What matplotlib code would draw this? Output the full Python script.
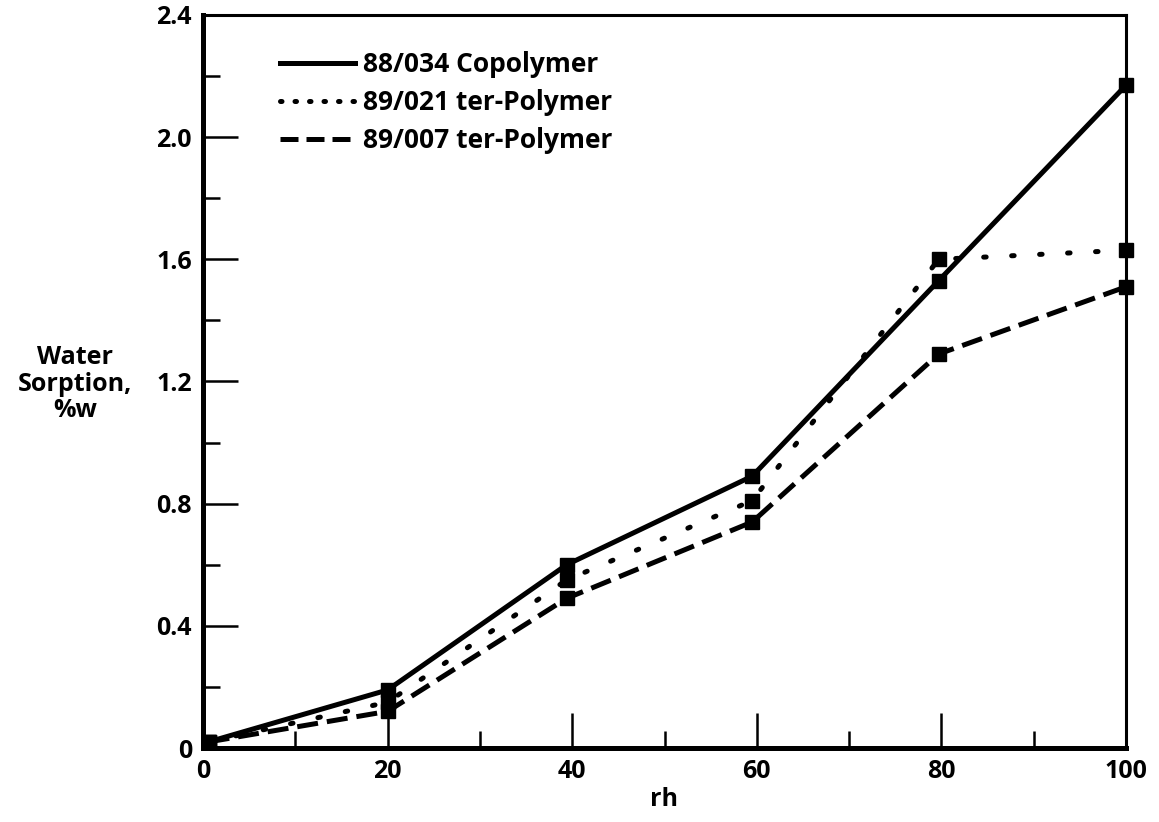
import matplotlib
matplotlib.use("Agg")
import matplotlib.pyplot as plt
from matplotlib.lines import Line2D
from matplotlib.ticker import MultipleLocator

plt.rcParams['font.family'] = ['Open Sans', 'DejaVu Sans']

# relative humidity (%) and water sorption (%w) for each polymer
rh = [0.6, 20, 39.4, 59.5, 79.7, 100]
copolymer_88_034 = [0.02, 0.19, 0.60, 0.89, 1.53, 2.17]
terpolymer_89_021 = [0.02, 0.15, 0.55, 0.81, 1.60, 1.63]
terpolymer_89_007 = [0.02, 0.12, 0.49, 0.74, 1.29, 1.51]

series_labels = ["88/034 Copolymer", "89/021 ter-Polymer", "89/007 ter-Polymer"]
x_ticks = [0, 20, 40, 60, 80, 100]
y_ticks = [0, 0.4, 0.8, 1.2, 1.6, 2.0, 2.4]
y_tick_labels = ["0", "0.4", "0.8", "1.2", "1.6", "2.0", "2.4"]

W, H, DPI = 1159, 822, 100
fig = plt.figure(figsize=(W / DPI, H / DPI), dpi=DPI)
ax = fig.add_axes([203 / W, 1 - 748 / H, (1126 - 203) / W, (748 - 15) / H])

lw = 3.6
dotted = (0, (0.5, 5.1))
dashed = (0, (4.2, 1.8))
styles = [
    dict(linestyle='-'),
    dict(linestyle=dotted, dash_capstyle='round'),
    dict(linestyle=dashed, dash_capstyle='butt'),
]
for vals, st in zip([copolymer_88_034, terpolymer_89_021, terpolymer_89_007], styles):
    ax.plot(rh, vals, color='black', lw=lw, marker='s', markersize=9.5,
            markerfacecolor='black', markeredgecolor='black', clip_on=False,
            zorder=3, **st)

ax.set_xlim(0, 100)
ax.set_ylim(0, 2.4)
ax.set_xticks(x_ticks)
ax.xaxis.set_minor_locator(MultipleLocator(10))
ax.set_yticks(y_ticks)
ax.set_yticklabels(y_tick_labels)
ax.yaxis.set_minor_locator(MultipleLocator(0.2))

ax.tick_params(which='major', direction='in', length=25, width=1.8, pad=8,
               labelsize=18, colors='black')
ax.tick_params(which='minor', direction='in', length=12, width=1.8)
for lab in ax.get_xticklabels() + ax.get_yticklabels():
    lab.set_fontweight('bold')

for side in ['left', 'bottom']:
    ax.spines[side].set_linewidth(3.6)
for side in ['top', 'right']:
    ax.spines[side].set_linewidth(2.2)

ax.set_xlabel("rh", fontsize=18, fontweight='bold', labelpad=2)
fig.text(75 / W, 1 - 384 / H, "Water\nSorption,\n%w", ha='center', va='center',
         fontsize=18, fontweight='bold', linespacing=1.1)

handles = [
    Line2D([], [], color='black', lw=lw, linestyle='-'),
    Line2D([], [], color='black', lw=lw, linestyle=(0, (0.3, 2.6)), dash_capstyle='round'),
    Line2D([], [], color='black', lw=lw, linestyle=(0, (3.6, 1.6)), dash_capstyle='butt'),
]
leg = ax.legend(handles, series_labels, loc='upper left',
                bbox_to_anchor=((280 - 203) / (1126 - 203), 1 - (51 - 15) / (748 - 15)),
                frameon=False, handlelength=2.85, handletextpad=0.3,
                labelspacing=0.42, borderaxespad=0, borderpad=0,
                prop={'size': 19, 'weight': 'bold'})

fig.savefig("out.png", dpi=DPI)
